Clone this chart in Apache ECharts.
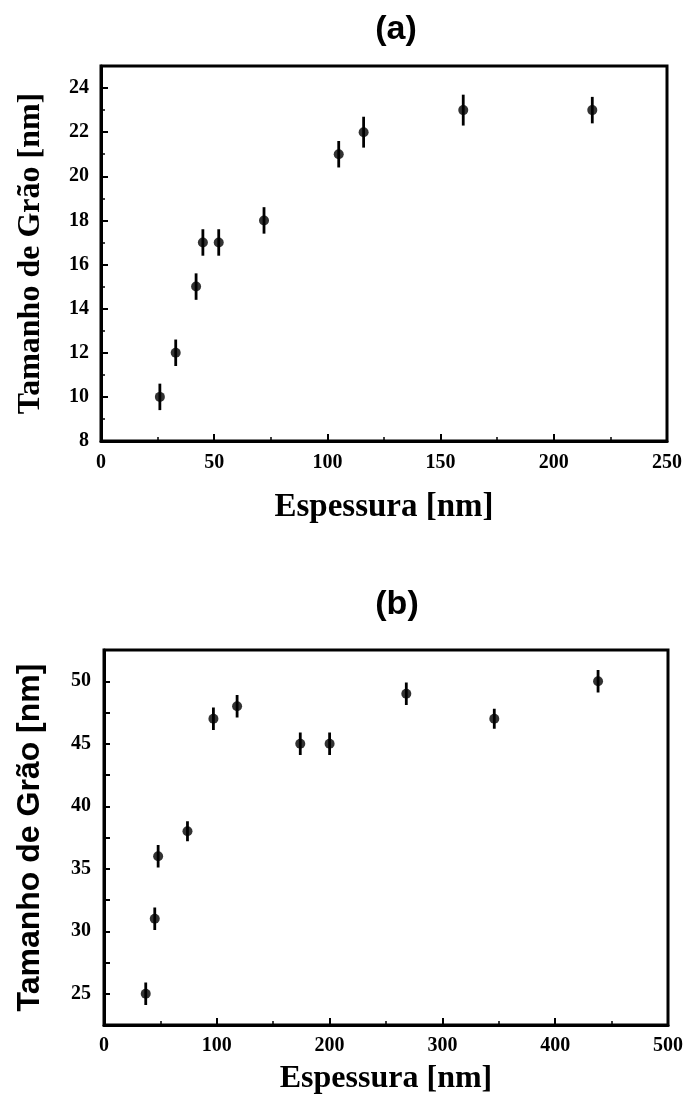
<!DOCTYPE html>
<html>
<head>
<meta charset="utf-8">
<script src="https://cdn.jsdelivr.net/npm/echarts@6/dist/echarts.min.js"></script>
<style>html,body{margin:0;padding:0;background:#fff}#c{width:686px;height:1109px}</style>
</head>
<body>
<div id="c"></div>
<script>
// Panel (a)
const xA = [26, 33, 42, 45, 52, 72, 105, 116, 160, 217];
const yA = [10, 12, 15, 17, 17, 18, 21, 22, 23, 23];
const errA = [0.6, 0.6, 0.6, 0.6, 0.6, 0.6, 0.6, 0.7, 0.7, 0.6];
// Panel (b)
const xB = [37, 45, 48, 74, 97, 118, 174, 200, 268, 346, 438];
const yB = [25, 31, 36, 38, 47, 48, 45, 45, 49, 47, 50];
const errB = [0.9, 0.9, 0.9, 0.8, 0.9, 0.9, 0.9, 0.9, 0.9, 0.8, 0.9];

const titles = ['(a)', '(b)'];
const xName = 'Espessura [nm]';
const yName = 'Tamanho de Grão [nm]';

const serif = '"Liberation Serif", "DejaVu Serif", serif';
const sans = '"Liberation Sans", Arial, sans-serif';

function pts(xs, ys) { return xs.map((x, i) => [x, ys[i]]); }
function errData(xs, ys, es) { return xs.map((x, i) => [x, ys[i] - es[i], ys[i] + es[i]]); }

function errSeries(idx, data) {
  return {
    type: 'custom', xAxisIndex: idx, yAxisIndex: idx, data: data, z: 3,
    renderItem: function (params, api) {
      const lo = api.coord([api.value(0), api.value(1)]);
      const hi = api.coord([api.value(0), api.value(2)]);
      return { type: 'line', shape: { x1: lo[0], y1: lo[1], x2: hi[0], y2: hi[1] },
               style: { stroke: '#000', lineWidth: 2.8 } };
    }
  };
}

const axisLineStyle = { show: true, onZero: false, lineStyle: { color: '#000', width: 3 } };
const tickStyle = { show: true, inside: true, length: 7, lineStyle: { color: '#000', width: 2 } };
const minorStyle = { show: true, splitNumber: 2, length: 4, lineStyle: { color: '#000', width: 1.5 } };
const labelBase = { color: '#000', fontFamily: serif, fontWeight: 'bold', fontSize: 20 };

const chart = echarts.init(document.getElementById('c'), null, { renderer: 'canvas' });
chart.setOption({
  backgroundColor: '#fff',
  animation: false,
  title: [
    { text: titles[0], left: 391, top: 8, textAlign: 'center',
      textStyle: { fontFamily: sans, fontWeight: 'bold', fontSize: 34, color: '#000' } },
    { text: titles[1], left: 392, top: 583, textAlign: 'center',
      textStyle: { fontFamily: sans, fontWeight: 'bold', fontSize: 34, color: '#000' } }
  ],
  grid: [
    { left: 101, right: 19, top: 66, bottom: 668, show: true, borderColor: '#000', borderWidth: 3, backgroundColor: 'transparent' },
    { left: 104, right: 18, top: 650, bottom: 84, show: true, borderColor: '#000', borderWidth: 3, backgroundColor: 'transparent' }
  ],
  xAxis: [
    { type: 'value', gridIndex: 0, min: 0, max: 250, interval: 50,
      name: xName, nameLocation: 'middle', nameGap: 50,
      nameTextStyle: { fontFamily: serif, fontWeight: 'bold', fontSize: 33, color: '#000' },
      axisLine: axisLineStyle, axisTick: tickStyle, minorTick: minorStyle,
      splitLine: { show: false },
      axisLabel: Object.assign({ margin: 12 }, labelBase) },
    { type: 'value', gridIndex: 1, min: 0, max: 500, interval: 100,
      name: xName, nameLocation: 'middle', nameGap: 38,
      nameTextStyle: { fontFamily: serif, fontWeight: 'bold', fontSize: 32, color: '#000' },
      axisLine: axisLineStyle, axisTick: tickStyle, minorTick: minorStyle,
      splitLine: { show: false },
      axisLabel: Object.assign({ margin: 11 }, labelBase) }
  ],
  yAxis: [
    { type: 'value', gridIndex: 0, min: 8, max: 25, interval: 2,
      name: yName, nameLocation: 'middle', nameGap: 54, nameRotate: 90,
      nameTextStyle: { fontFamily: serif, fontWeight: 'bold', fontSize: 32, color: '#000' },
      axisLine: axisLineStyle, axisTick: tickStyle, minorTick: minorStyle,
      splitLine: { show: false },
      axisLabel: Object.assign({ margin: 12, formatter: v => (v % 2 === 0 && v <= 24) ? String(v) : '' }, labelBase) },
    { type: 'value', gridIndex: 1, min: 22.5, max: 52.5, interval: 2.5,
      name: yName, nameLocation: 'middle', nameGap: 58, nameRotate: 90,
      nameTextStyle: { fontFamily: sans, fontWeight: 'bold', fontSize: 32, color: '#000' },
      axisLine: axisLineStyle, axisTick: Object.assign({}, tickStyle, { length: 6 }),
      splitLine: { show: false },
      axisLabel: Object.assign({ margin: 13, formatter: v => (v % 5 === 0) ? String(v) : '' }, labelBase) }
  ],
  series: [
    errSeries(0, errData(xA, yA, errA)),
    { type: 'scatter', xAxisIndex: 0, yAxisIndex: 0, data: pts(xA, yA),
      symbol: 'circle', symbolSize: 10, itemStyle: { color: '#000' }, z: 4 },
    errSeries(1, errData(xB, yB, errB)),
    { type: 'scatter', xAxisIndex: 1, yAxisIndex: 1, data: pts(xB, yB),
      symbol: 'circle', symbolSize: 10, itemStyle: { color: '#000' }, z: 4 }
  ]
});
</script>
</body>
</html>
